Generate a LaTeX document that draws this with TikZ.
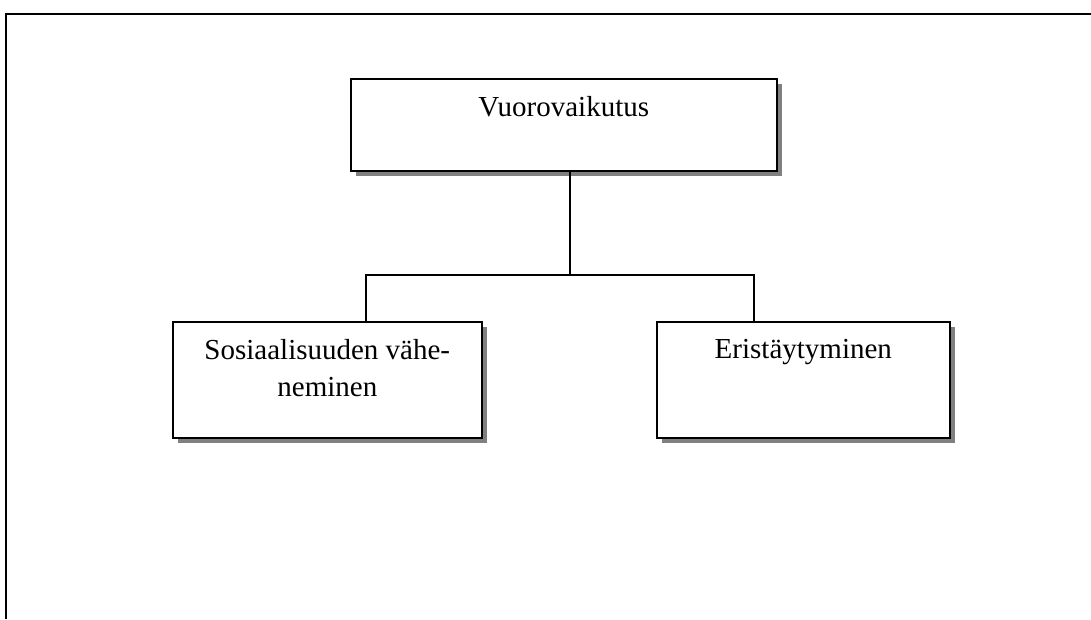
\documentclass[tikz,border=0pt]{standalone}
\usepackage{fontspec}
\setmainfont{Liberation Serif}
\usepackage{tikz}
\usetikzlibrary{shadows}
\usetikzlibrary{positioning}
\definecolor{mgray}{rgb}{0.5, 0.5, 0.5}
\tikzset{box/.style = {draw, line width=1.6pt, fill=white, anchor=north west, inner sep=0pt,
                       drop shadow={shadow xshift=5.5pt, shadow yshift=-5.5pt, fill=mgray, opacity=1}},
         boxtext/.style = {anchor=north, inner sep=0pt, align=center, yshift=-18.5pt,
                           font=\fontsize{29}{37}\selectfont},
         conn/.style = {line width=1.5pt}}

\begin{document}
\begin{tikzpicture}[x=1pt, y=-1pt]
    \useasboundingbox (0, 0) rectangle (1091, 619);
    \draw [line width=2pt] (6, 619) -- (6, 14) -- (1091, 14);

    \node [box, minimum width=426pt, minimum height=92pt] (vuoro) at (350, 78) {};
    \node [box, minimum width=309pt, minimum height=116pt] (sosiaal) at (172, 321) {};
    \node [box, minimum width=293pt, minimum height=116pt] (erist) at (656, 321) {};

    \node [boxtext] (vuoroteksti) at (vuoro.north) {Vuorovaikutus};
    \node [boxtext] (sosiaalteksti) at (sosiaal.north) {Sosiaalisuuden vähe-\\neminen};
    \node [boxtext] (eristteksti) at (erist.north) {Eristäytyminen};

    \coordinate (haara) at (570, 275);
    \coordinate (vasen) at (366, 275);
    \coordinate (oikea) at (754, 275);
    \draw [conn] (vuoro.south -| haara) -- (haara);
    \draw [conn] (vasen |- sosiaal.north) -- (vasen) -- (oikea) -- (oikea |- erist.north);
  \end{tikzpicture}
\end{document}
